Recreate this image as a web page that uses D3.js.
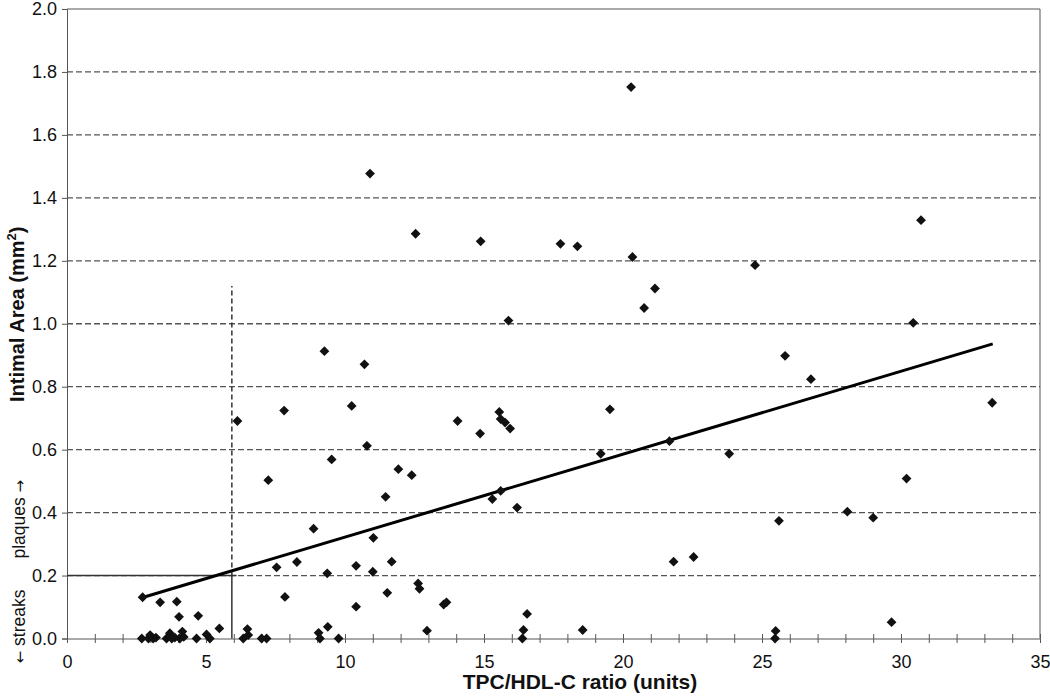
<!DOCTYPE html>
<html>
<head>
<meta charset="utf-8">
<script src="https://cdn.jsdelivr.net/npm/d3@7"></script>
<style>
  body { margin: 0; background: #fff; }
  svg { display: block; font-family: "Liberation Sans", Arial, sans-serif; }
</style>
</head>
<body>
<svg id="chart" width="1050" height="699"></svg>
<script>
// TPC/HDL-C ratio (x) vs intimal area (y)
const ratioValues = [
  2.72, 2.69, 2.93, 2.99, 3.10, 3.20, 3.35, 3.58, 3.70, 3.77, 3.88, 3.95, 4.03,
  4.06, 4.15, 4.20, 4.66, 4.72, 5.02, 5.14, 5.48, 6.34, 6.49, 6.52, 7.00, 7.18,
  6.13, 7.24, 7.54, 7.81, 7.84, 8.27, 8.87, 9.05, 9.10, 9.26, 9.36, 9.38, 9.52,
  9.77, 10.24, 10.40, 10.40, 10.70, 10.79, 10.90, 11.00, 11.02, 11.46, 11.52,
  11.68, 11.92, 12.40, 12.54, 12.63, 12.68, 12.95, 13.55, 13.65, 14.05, 14.86,
  14.88, 15.30, 15.55, 15.60, 15.60, 15.76, 15.88, 15.94, 16.19, 16.38, 16.42,
  16.55, 17.75, 18.36, 18.55, 19.20, 19.53, 20.29, 20.34, 20.76, 21.15, 21.67,
  21.82, 22.54, 23.82, 24.75, 25.47, 25.49, 25.61, 25.83, 26.76, 28.07, 29.00,
  29.66, 30.20, 30.44, 30.72, 33.28
];
const areaValues = [
  0.131, 0.000, 0.000, 0.011, 0.000, 0.003, 0.115, 0.000, 0.017, 0.000, 0.003, 0.117, 0.069,
  0.000, 0.022, 0.005, 0.000, 0.072, 0.013, 0.000, 0.032, 0.000, 0.030, 0.011, 0.000, 0.000,
  0.691, 0.503, 0.226, 0.724, 0.132, 0.243, 0.349, 0.018, 0.000, 0.913, 0.207, 0.037, 0.569,
  0.000, 0.739, 0.231, 0.101, 0.871, 0.612, 1.477, 0.212, 0.320, 0.450, 0.145,
  0.244, 0.538, 0.519, 1.286, 0.175, 0.158, 0.025, 0.108, 0.115, 0.691, 0.651,
  1.262, 0.443, 0.720, 0.697, 0.469, 0.686, 1.010, 0.667, 0.416, 0.000, 0.027,
  0.078, 1.254, 1.246, 0.027, 0.587, 0.728, 1.752, 1.212, 1.050, 1.112, 0.627,
  0.244, 0.259, 0.587, 1.186, 0.000, 0.024, 0.374, 0.898, 0.824, 0.403, 0.384,
  0.052, 0.508, 1.003, 1.329, 0.749
];

// linear trend line end points
const trendX = [2.75, 33.3];
const trendY = [0.131, 0.936];

// cut-off markers (ratio ~6, area 0.2)
const cutRatio = 5.93;
const cutArea = 0.2;
const cutLineEnd = 6.1;
const cutDashTop = 1.12;

const xTicks = [0, 5, 10, 15, 20, 25, 30, 35];
const yTicks = [0, 0.2, 0.4, 0.6, 0.8, 1.0, 1.2, 1.4, 1.6, 1.8, 2.0];

const margin = {top: 9, right: 10, bottom: 60.5, left: 67};
const width = 1050 - margin.left - margin.right,
      height = 699 - margin.top - margin.bottom;

const svg = d3.select("#chart");
const g = svg.append("g")
    .attr("transform", "translate(" + margin.left + "," + margin.top + ")");

const x = d3.scaleLinear().domain([0, 35]).range([0, width]);
const y = d3.scaleLinear().domain([0, 2]).range([height, 0]);

// dashed grid
g.selectAll("line.grid")
  .data(yTicks.filter(d => d > 0 && d < 2))
  .enter()
  .append("line")
    .attr("class", "grid")
    .attr("x1", 0)
    .attr("x2", width)
    .attr("y1", d => y(d))
    .attr("y2", d => y(d))
    .attr("stroke", "#555")
    .attr("stroke-width", 1.3)
    .attr("stroke-dasharray", "6,3");

// frame top / right
g.append("line")
  .attr("x1", 0).attr("x2", width).attr("y1", y(2)).attr("y2", y(2))
  .attr("stroke", "#555");
g.append("line")
  .attr("x1", width).attr("x2", width).attr("y1", 0).attr("y2", height)
  .attr("stroke", "#555");

// y axis
const yAxis = g.append("g")
    .call(d3.axisLeft(y).tickValues(yTicks).tickSize(5).tickPadding(5)
      .tickFormat(d3.format(".1f")));
yAxis.select(".domain").attr("stroke", "#555");
yAxis.selectAll(".tick line").attr("stroke", "#555");
yAxis.selectAll("text")
    .attr("font-size", 18)
    .attr("font-family", "Liberation Sans, Arial, sans-serif")
    .attr("fill", "#111");

// x axis, ticks cross the axis line
const minorTicks = d3.range(0, 36);
const xAxis = g.append("g")
    .attr("transform", "translate(0," + height + ")")
    .call(d3.axisBottom(x).tickValues(minorTicks).tickSize(4.5).tickPadding(12)
      .tickFormat(d => xTicks.includes(d) ? d : ""));
xAxis.select(".domain").attr("stroke", "#555");
xAxis.selectAll(".tick line").attr("stroke", "#555");
xAxis.selectAll("text")
    .attr("font-size", 18)
    .attr("font-family", "Liberation Sans, Arial, sans-serif")
    .attr("fill", "#111");
const xAxisTop = g.append("g")
    .attr("transform", "translate(0," + height + ")")
    .call(d3.axisTop(x).tickValues(minorTicks).tickSize(4.5).tickFormat(""));
xAxisTop.select(".domain").remove();
xAxisTop.selectAll(".tick line").attr("stroke", "#555");

// cut-off lines
g.append("line")
  .attr("x1", x(0)).attr("x2", x(cutLineEnd))
  .attr("y1", y(cutArea)).attr("y2", y(cutArea))
  .attr("stroke", "#333").attr("stroke-width", 1.5);
g.append("line")
  .attr("x1", x(cutRatio)).attr("x2", x(cutRatio))
  .attr("y1", y(0)).attr("y2", y(cutArea))
  .attr("stroke", "#333").attr("stroke-width", 1.5);
g.append("line")
  .attr("x1", x(cutRatio)).attr("x2", x(cutRatio))
  .attr("y1", y(cutArea)).attr("y2", y(cutDashTop))
  .attr("stroke", "#333").attr("stroke-width", 1.5)
  .attr("stroke-dasharray", "5,3");

// trend line
g.append("line")
  .attr("x1", x(trendX[0])).attr("y1", y(trendY[0]))
  .attr("x2", x(trendX[1])).attr("y2", y(trendY[1]))
  .attr("stroke", "#000")
  .attr("stroke-width", 3);

// points (diamonds)
const diamond = d3.symbol().type(d3.symbolSquare).size(48);
g.selectAll("path.pt")
  .data(ratioValues.map((r, i) => ({ratio: r, area: areaValues[i]})))
  .enter()
  .append("path")
    .attr("class", "pt")
    .attr("d", diamond)
    .attr("transform", d => "translate(" + x(d.ratio) + "," + y(d.area) + ") rotate(45)")
    .attr("fill", "#111");

// axis titles
svg.append("text")
  .attr("x", margin.left + x(18.45))
  .attr("y", 689)
  .attr("text-anchor", "middle")
  .attr("font-size", 21)
  .attr("font-weight", "bold")
  .attr("fill", "#111")
  .text("TPC/HDL-C ratio (units)");

const yTitle = svg.append("text")
  .attr("transform", "translate(24," + (margin.top + y(1.03)) + ") rotate(-90)")
  .attr("text-anchor", "middle")
  .attr("font-size", 20)
  .attr("font-weight", "bold")
  .attr("fill", "#111");
yTitle.append("tspan").text("Intimal Area (mm");
yTitle.append("tspan").attr("font-size", 13).attr("dy", -8).text("2");
yTitle.append("tspan").attr("dy", 8).text(")");

// streaks / plaques annotation
const arrowFont = "DejaVu Sans, sans-serif";
const streaks = svg.append("text")
  .attr("transform", "translate(25," + (margin.top + y(cutArea) + 14) + ") rotate(-90)")
  .attr("text-anchor", "end")
  .attr("font-size", 17.5)
  .attr("fill", "#111");
streaks.append("tspan").attr("font-family", arrowFont).attr("font-size", 15).text("\u2190");
streaks.append("tspan").text(" streaks");

const plaques = svg.append("text")
  .attr("transform", "translate(25," + (margin.top + y(cutArea) - 17) + ") rotate(-90)")
  .attr("text-anchor", "start")
  .attr("font-size", 17.5)
  .attr("fill", "#111");
plaques.append("tspan").text("plaques ");
plaques.append("tspan").attr("font-family", arrowFont).attr("font-size", 15).text("\u2192");
</script>
</body>
</html>
